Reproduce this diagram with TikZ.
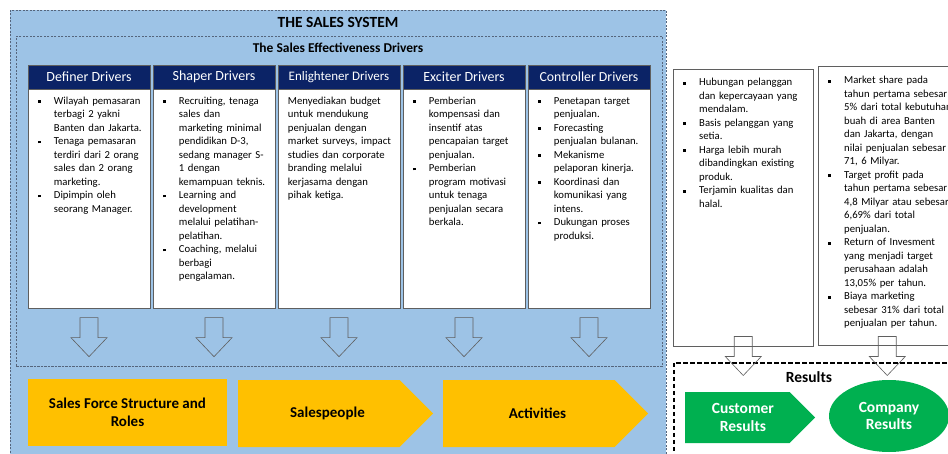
\documentclass[tikz,border=0pt]{standalone}
\usepackage{fontspec}
\setmainfont{Carlito}
\usetikzlibrary{calc,shapes.geometric,shapes.symbols}

\definecolor{sysblue}{HTML}{9DC3E6}
\definecolor{navy}{HTML}{0B2366}
\definecolor{gold}{HTML}{FFC000}
\definecolor{leaf}{HTML}{00B050}
\definecolor{framegray}{HTML}{55657C}
\definecolor{linegray}{HTML}{5F5F5F}

\newcommand{\sqbullet}{\rule[1.3pt]{2.8pt}{2.8pt}}
\newcommand{\pitem}{\hangindent=16pt\hangafter=1\noindent\makebox[16pt][l]{\sqbullet}}

\tikzset{
	blockdown/.pic={
		\draw[arrowline] (-9,0) -- (9,0) -- (9,20) -- (18,20) -- (0,39) -- (-18,20) -- (-9,20) -- cycle;
	}
}

\begin{document}
\begin{tikzpicture}[x=1pt, y=-1pt,
	sysframe/.style={draw=framegray, line width=0.6pt, dash pattern=on 2.2pt off 1.3pt, inner sep=0, anchor=north west},
	hdr/.style={draw=linegray, fill=navy, text=white, minimum width=122, minimum height=24, inner sep=0},
	bodybox/.style={draw=linegray, line width=0.5pt, fill=white, minimum width=122, minimum height=219, inner sep=0, anchor=north},
	pts/.style={anchor=base west, inner sep=0, text width=#1, align=left, font=\fontsize{10.7}{13.5}\selectfont},
	pts/.default=115,
	arrowline/.style={draw=linegray, line width=0.6pt},
	bigbold/.style={font=\fontsize{15}{18}\selectfont\bfseries, align=center, inner sep=0},
	goldbox/.style={fill=gold, minimum width=199, minimum height=67, inner sep=0},
	goldsig/.style={signal, signal to=east, signal pointer angle=90, fill=gold, minimum height=67, inner sep=0, anchor=west},
	resbox/.style={draw=linegray, line width=0.5pt, fill=white, inner sep=0, anchor=north west}
	]
	\useasboundingbox (0,0) rectangle (948,454);
	\clip (0,0) rectangle (948,454);

	%the sales system
	\node[sysframe, fill=sysblue, minimum width=656, minimum height=470] (system) at (10,10) {};
	\node[font=\fontsize{15.5}{18}\selectfont\bfseries] (systitle) at (338,22) {THE SALES SYSTEM};
	\node[sysframe, minimum width=646, minimum height=330] (effect) at (16,36) {};
	\node[font=\fontsize{13.5}{16}\selectfont\bfseries] (efftitle) at (338,48) {The Sales Effectiveness Drivers};

	%driver columns
	\foreach \nm/\fs [count=\i from 0] in {Definer/14, Shaper/14, Enlightener/13, Exciter/14, Controller/13.8}{
		\node[hdr, font=\fontsize{\fs}{16}\selectfont] (hd\i) at (89+125*\i, 77) {\nm\ Drivers};
		\node[bodybox] (bd\i) at (hd\i.south) {};
		\pic at ($(bd\i.south)+(0,9)$) {blockdown};
	}

	\node[pts] (tx0) at ($(bd0.north west)+(10,15)$) {%
		\pitem Wilayah pemasaran\newline terbagi 2 yakni\newline Banten dan Jakarta.\par
		\pitem Tenaga pemasaran\newline terdiri dari 2 orang\newline sales dan 2 orang\newline marketing.\par
		\pitem Dipimpin oleh\newline seorang Manager.\par};
	\node[pts] (tx1) at ($(bd1.north west)+(10,15)$) {%
		\pitem Recruiting, tenaga\newline sales dan\newline marketing minimal\newline pendidikan D-3,\newline sedang manager S-\newline 1 dengan\newline kemampuan teknis.\par
		\pitem Learning and\newline development\newline melalui pelatihan-\newline pelatihan.\par
		\pitem Coaching, melalui\newline berbagi\newline pengalaman.\par};
	\node[pts] (tx2) at ($(bd2.north west)+(10,15)$) {%
		Menyediakan budget\newline untuk mendukung\newline penjualan dengan\newline market surveys, impact\newline studies dan corporate\newline branding melalui\newline kerjasama dengan\newline pihak ketiga.};
	\node[pts] (tx3) at ($(bd3.north west)+(10,15)$) {%
		\pitem Pemberian\newline kompensasi dan\newline insentif atas\newline pencapaian target\newline penjualan.\par
		\pitem Pemberian\newline program motivasi\newline untuk tenaga\newline penjualan secara\newline berkala.\par};
	\node[pts] (tx4) at ($(bd4.north west)+(10,15)$) {%
		\pitem Penetapan target\newline penjualan.\par
		\pitem Forecasting\newline penjualan bulanan.\par
		\pitem Mekanisme\newline pelaporan kinerja.\par
		\pitem Koordinasi dan\newline komunikasi yang\newline intens.\par
		\pitem Dukungan proses\newline produksi.\par};

	%process chain
	\node[goldbox] (force) at (127.5,412.5) {};
	\node[bigbold] (forcetxt) at (force.center) {Sales Force Structure and\\Roles};
	\node[goldsig, minimum width=195] (people) at (238,413.5) {};
	\node[bigbold] (peopletxt) at ($(people.center)+(8.5,0)$) {Salespeople};
	\node[goldsig, minimum width=205] (activ) at (443,413.5) {};
	\node[bigbold] (activtxt) at ($(activ.center)+(8.5,0)$) {Activities};

	%results side
	\node[resbox, minimum width=140, minimum height=277] (custbox) at (673,69) {};
	\node[resbox, minimum width=138, minimum height=279] (compbox) at (818,66) {};
	\node[pts=125] (custtx) at (683,86) {%
		\pitem Hubungan pelanggan\newline dan kepercayaan yang\newline mendalam.\par
		\pitem Basis pelanggan yang\newline setia.\par
		\pitem Harga lebih murah\newline dibandingkan existing\newline produk.\par
		\pitem Terjamin kualitas dan\newline halal.\par};
	\node[pts=140] (comptx) at (828,84) {%
		\pitem Market share pada\newline tahun pertama sebesar\newline 5\% dari total kebutuhan\newline buah di area Banten\newline dan Jakarta, dengan\newline nilai penjualan sebesar\newline 71, 6 Milyar.\par
		\pitem Target profit pada\newline tahun pertama sebesar\newline 4,8 Milyar atau sebesar\newline 6,69\% dari total\newline penjualan.\par
		\pitem Return of Invesment\newline yang menjadi target\newline perusahaan adalah\newline 13,05\% per tahun.\par
		\pitem Biaya marketing\newline sebesar 31\% dari total\newline penjualan per tahun.\par};

	\node[draw=black, line width=1.5pt, dash pattern=on 4.5pt off 2.5pt, minimum width=290, minimum height=120, inner sep=0, anchor=north west] (results) at (673,362) {};
	\node[font=\fontsize{15.5}{18}\selectfont\bfseries] (restitle) at (809,377) {Results};
	\node[signal, signal to=east, signal pointer angle=90, fill=leaf, minimum width=130, minimum height=51, inner sep=0, anchor=west] (custres) at (685,417.5) {};
	\node[bigbold, text=white, font=\fontsize{15.5}{17.5}\selectfont\bfseries] (custrestxt) at ($(custres.center)+(5.5,0)$) {Customer\\Results};
	\node[ellipse, fill=leaf, minimum width=120, minimum height=72, inner sep=0] (compres) at (889,416) {};
	\node[bigbold, text=white, font=\fontsize{15.5}{17.5}\selectfont\bfseries] (comprestxt) at (compres.center) {Company\\Results};

	\pic at ($(custbox.south)+(0,-10)$) {blockdown};
	\pic at ($(compbox.south)+(0,-9)$) {blockdown};
\end{tikzpicture}
\end{document}
